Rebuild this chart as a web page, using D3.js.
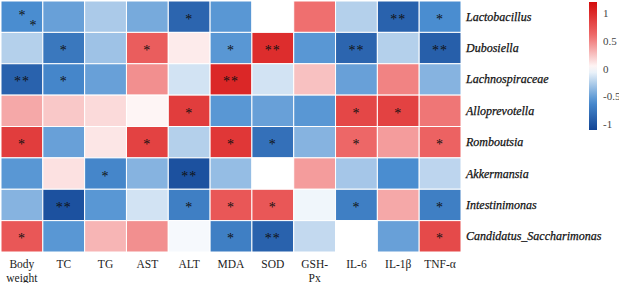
<!DOCTYPE html>
<html>
<head>
<meta charset="utf-8">
<script src="https://cdn.jsdelivr.net/npm/d3@7"></script>
<style>
  body { margin: 0; background: #fff; }
  svg text { font-family: "Liberation Serif", "DejaVu Serif", serif; fill: #222; }
</style>
</head>
<body>
<div id="chart"></div>
<script>
const indicators = ["Body weight", "TC", "TG", "AST", "ALT", "MDA", "SOD", "GSH-Px", "IL-6", "IL-1β", "TNF-α"]
const genera = ["Lactobacillus", "Dubosiella", "Lachnospiraceae", "Alloprevotella", "Romboutsia", "Akkermansia", "Intestinimonas", "Candidatus_Saccharimonas"]

// correlation coefficients, one row per genus
const correlations = [
  [-0.60, -0.50, -0.28, -0.45, -0.88, -0.55,  0.00,  0.58, -0.25, -0.90, -0.60],
  [-0.25, -0.75, -0.32,  0.68,  0.08, -0.55,  0.98, -0.55, -0.88, -0.25, -0.92],
  [-0.90, -0.65, -0.50,  0.45, -0.15,  1.02, -0.15,  0.25, -0.50,  0.50, -0.40],
  [ 0.35,  0.22,  0.15,  0.04,  0.88, -0.55, -0.50, -0.55,  0.82,  0.85,  0.55],
  [ 0.88, -0.50,  0.10,  0.85, -0.25,  0.92, -0.80, -0.40,  0.62,  0.40,  0.65],
  [-0.55,  0.12, -0.65, -0.40, -1.02, -0.35,  0.00,  0.40, -0.30, -0.60, -0.22],
  [-0.40, -1.02, -0.55, -0.15, -0.70,  0.72,  0.72, -0.05, -0.70,  0.35, -0.70],
  [ 0.72, -0.55,  0.30,  0.45, -0.03, -0.70, -0.90, -0.20,  0.00, -0.50,  0.80]
]

// significance marks, same layout ("*/*" = two stars set diagonally)
const significance = [
  ["*/*", "", "", "", "*", "", "", "", "", "**", "*"],
  ["", "*", "", "*", "", "*", "**", "", "**", "", "**"],
  ["**", "*", "", "", "", "**", "", "", "", "", ""],
  ["", "", "", "", "*", "", "", "", "*", "*", ""],
  ["*", "", "", "*", "", "*", "*", "", "*", "", "*"],
  ["", "", "*", "", "**", "", "", "", "", "", ""],
  ["", "**", "", "", "*", "*", "*", "", "*", "", "*"],
  ["*", "", "", "", "", "*", "**", "", "", "", "*"]
]

const legendTicks = [1, 0.5, 0, -0.5, -1]

const width = 619
const height = 283

const svg = d3.select("#chart").append("svg")
  .attr("width", width)
  .attr("height", height)

const x = d3.scaleBand().domain(indicators).range([1, 461])
const y = d3.scaleBand().domain(genera).range([1, 252])

const color = d3.scaleLinear()
  .domain([-1.18, -0.6, 0, 0.6, 1.18])
  .range(["#0b3a8c", "#4a8dd0", "#ffffff", "#ee6a6a", "#d40d0d"])
  .clamp(true)

const cells = []
genera.forEach((g, i) => {
  indicators.forEach((ind, j) => {
    cells.push({ genus: g, ind: ind, value: correlations[i][j], sig: significance[i][j] })
  })
})

svg.append("g").selectAll("rect")
  .data(cells)
  .join("rect")
  .attr("x", d => x(d.ind))
  .attr("y", d => y(d.genus))
  .attr("width", x.bandwidth())
  .attr("height", y.bandwidth())
  .attr("fill", d => color(d.value))
  .attr("stroke", "#fff")
  .attr("stroke-width", 1)

const stars = svg.append("g")
stars.selectAll("text")
  .data(cells.filter(d => d.sig && d.sig !== "*/*"))
  .join("text")
  .attr("x", d => x(d.ind) + x.bandwidth() / 2)
  .attr("y", d => y(d.genus) + y.bandwidth() / 2 + 7)
  .attr("text-anchor", "middle")
  .style("font-size", "14px")
  .style("letter-spacing", "1px")
  .style("fill", "#111")
  .text(d => d.sig)

cells.filter(d => d.sig === "*/*").forEach(d => {
  const cx = x(d.ind) + x.bandwidth() / 2
  const cy = y(d.genus) + y.bandwidth() / 2
  stars.append("text").attr("x", cx).attr("y", cy + 3)
    .attr("text-anchor", "middle").style("font-size", "14px").style("fill", "#111").text("*")
  stars.append("text").attr("x", cx + 11).attr("y", cy + 13)
    .attr("text-anchor", "middle").style("font-size", "14px").style("fill", "#111").text("*")
})

// column labels (wrap two-word labels)
const colLabels = svg.append("g")
indicators.forEach(ind => {
  const lines = ind === "Body weight" ? ["Body", "weight"] : ind === "GSH-Px" ? ["GSH-", "Px"] : [ind]
  const t = colLabels.append("text")
    .attr("x", x(ind) + x.bandwidth() / 2)
    .attr("y", 268)
    .attr("text-anchor", "middle")
    .style("font-size", "11.5px")
  lines.forEach((l, k) => {
    t.append("tspan")
      .attr("x", x(ind) + x.bandwidth() / 2)
      .attr("dy", k === 0 ? 0 : 14)
      .text(l)
  })
})

// row labels
svg.append("g").selectAll("text")
  .data(genera)
  .join("text")
  .attr("x", 466)
  .attr("y", d => y(d) + y.bandwidth() / 2 + 4)
  .style("font-size", "12px")
  .style("font-style", "italic")
  .style("fill", "#111")
  .style("stroke", "#111")
  .style("stroke-width", "0.25px")
  .text(d => d)

// colour legend
const legendScale = d3.scaleLinear().domain([1, -1]).range([13, 124])
const legendTop = 2
const legendBottom = 130

const defs = svg.append("defs")
const grad = defs.append("linearGradient")
  .attr("id", "legend-grad")
  .attr("x1", 0).attr("y1", 0).attr("x2", 0).attr("y2", 1)
d3.range(0, 1.001, 0.05).forEach(t => {
  const v = legendScale.invert(legendTop + t * (legendBottom - legendTop))
  grad.append("stop").attr("offset", t).attr("stop-color", color(v))
})

svg.append("rect")
  .attr("x", 589)
  .attr("y", legendTop)
  .attr("width", 8)
  .attr("height", legendBottom - legendTop)
  .attr("fill", "url(#legend-grad)")

svg.append("g").selectAll("text")
  .data(legendTicks)
  .join("text")
  .attr("x", 603)
  .attr("y", d => legendScale(d) + 4)
  .style("font-size", "11px")
  .style("fill", "#444")
  .text(d => d)
</script>
</body>
</html>
